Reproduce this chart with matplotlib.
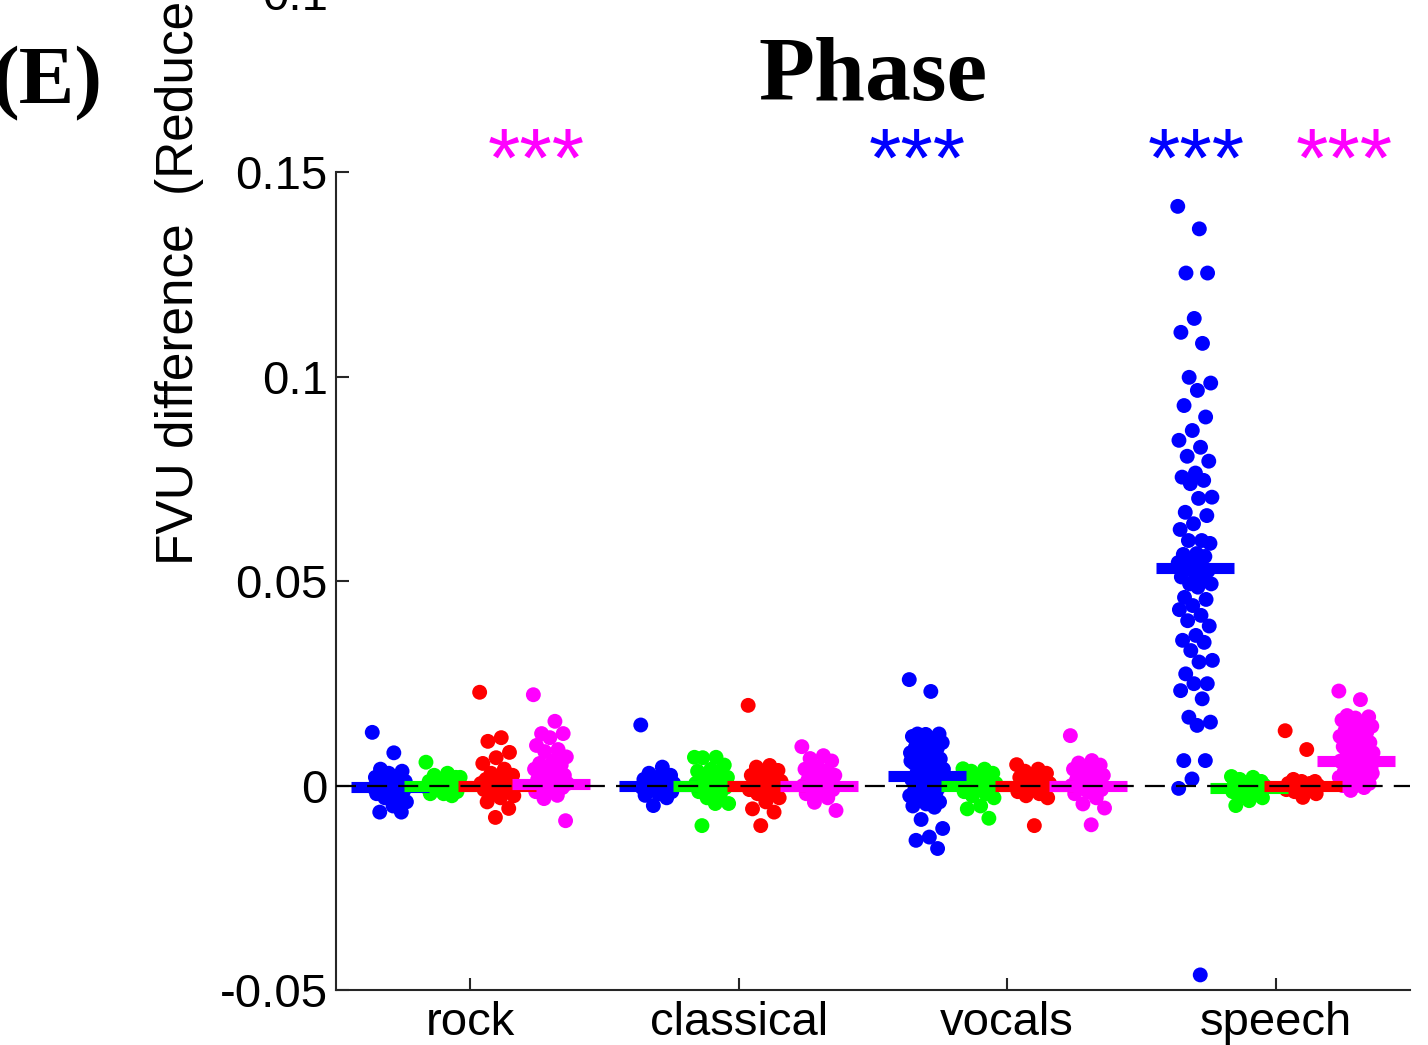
import numpy as np
import matplotlib
matplotlib.use('Agg')
import matplotlib.pyplot as plt

plt.rcParams['font.family'] = ['Liberation Sans', 'DejaVu Sans']

#   categories and colours of the four sub groups
categories = ['rock', 'classical', 'vocals', 'speech']
colors = ['#0000ff', '#00ff00', '#ff0000', '#ff00ff']

#   FVU differences (one list per category / colour)
rock_blue = [0.013, 0.008, 0.004, 0.0035, 0.003, 0.002, 0.002, 0.0015, 0.001, 0.001, 0.0005,
             0, 0, -0.0005, -0.001, -0.001, -0.0015, -0.002, -0.002, -0.003, -0.003, -0.004,
             -0.005, -0.0065, -0.0065, 0.0005, -0.0005, 0.001, -0.001, 0.0]
rock_green = [0.0057, 0.003, 0.0025, 0.002, 0.0015, 0.001, 0.001, 0.0005, 0.0005, 0, 0, 0,
              -0.0005, -0.0005, -0.001, -0.001, -0.0015, -0.002, -0.002, -0.0025, 0.0015,
              0.002, -0.0015, 0.0005, -0.0005]
rock_red = [0.0228, 0.0117, 0.0108, 0.0081, 0.0068, 0.0054, 0.004, 0.003, 0.0025, 0.002,
            0.0015, 0.001, 0.001, 0.0005, 0, 0, -0.0005, -0.001, -0.001, -0.0015, -0.002,
            -0.0025, -0.003, -0.004, -0.0056, -0.0078, 0.0005, -0.0005]
rock_magenta = [0.0222, 0.0157, 0.0127, 0.0127, 0.0117, 0.0098, 0.0088, 0.0083, 0.007, 0.006,
                0.0054, 0.005, 0.0045, 0.004, 0.0037, 0.003, 0.0025, 0.002, 0.0015, 0.001,
                0.001, 0.0005, 0, 0, -0.0005, -0.001, -0.0015, -0.0024, -0.0032, -0.0086,
                0.0005, 0.0, 0.001, -0.0005]

classical_blue = [0.0148, 0.0045, 0.003, 0.0025, 0.002, 0.0015, 0.001, 0.001, 0.0005, 0.0005,
                  0, 0, 0, -0.0005, -0.001, -0.001, -0.0015, -0.002, -0.0024, -0.003, -0.0049]
classical_green = [0.0069, 0.0069, 0.0068, 0.005, 0.004, 0.0035, 0.003, 0.0025, 0.002, 0.0015,
                   0.001, 0.001, 0.0005, 0.0005, 0, 0, -0.0005, -0.001, -0.0015, -0.002, -0.003,
                   -0.0044, -0.0044, -0.0098]
classical_red = [0.0196, 0.0049, 0.0045, 0.0037, 0.003, 0.0025, 0.002, 0.0015, 0.001, 0.0005,
                 0, 0, -0.0005, -0.001, -0.0015, -0.002, -0.003, -0.004, -0.0057, -0.0065,
                 -0.0098]
classical_magenta = [0.0095, 0.0073, 0.0066, 0.006, 0.0045, 0.004, 0.0035, 0.003, 0.0025, 0.002,
                     0.0015, 0.001, 0.0005, 0, 0, -0.0005, -0.001, -0.0015, -0.002, -0.003,
                     -0.0041, -0.0061]

vocals_blue = [0.0259, 0.023, 0.0126, 0.0126, 0.0125, 0.012, 0.0115, 0.011, 0.0105, 0.01,
               0.0095, 0.009, 0.0085, 0.008, 0.0075, 0.007, 0.0065, 0.006, 0.0055, 0.005,
               0.0045, 0.004, 0.0035, 0.003, 0.0025, 0.002, 0.0015, 0.001, 0.0005, 0, -0.0005,
               -0.001, -0.0015, -0.002, -0.0025, -0.003, -0.0035, -0.004, -0.0045, -0.005,
               -0.0053, -0.0083, -0.0105, -0.0126, -0.0134, -0.0154, 0.004, 0.006, 0.008, 0.01,
               0.002, 0.0, -0.002, -0.004]
vocals_green = [0.0041, 0.004, 0.0035, 0.003, 0.0025, 0.002, 0.0015, 0.001, 0.0005, 0, 0,
                -0.0005, -0.001, -0.0015, -0.002, -0.0025, -0.003, -0.005, -0.0057, -0.008]
vocals_red = [0.0051, 0.004, 0.0035, 0.003, 0.0025, 0.002, 0.0015, 0.001, 0.0005, 0, 0,
              -0.0005, -0.001, -0.0015, -0.002, -0.0025, -0.003, -0.0098]
vocals_magenta = [0.0122, 0.0061, 0.0055, 0.005, 0.0045, 0.004, 0.0035, 0.003, 0.0025, 0.002,
                  0.0015, 0.001, 0.0005, 0, 0, -0.0005, -0.001, -0.0015, -0.002, -0.003,
                  -0.0045, -0.0055, -0.0096]

speech_blue = [0.1416, 0.1361, 0.1253, 0.1253, 0.1142, 0.1108, 0.1081, 0.0998, 0.0984, 0.0966,
               0.0929, 0.0901, 0.0868, 0.0844, 0.0827, 0.0805, 0.0793, 0.0764, 0.0754, 0.0746,
               0.0738, 0.0705, 0.0702, 0.0668, 0.066, 0.064, 0.0626, 0.0599, 0.0599, 0.0592,
               0.0567, 0.0565, 0.056, 0.0552, 0.0545, 0.054, 0.0532, 0.0525, 0.052, 0.051,
               0.0502, 0.0493, 0.0493, 0.0485, 0.046, 0.0455, 0.044, 0.043, 0.0416, 0.0403,
               0.039, 0.0367, 0.0355, 0.035, 0.033, 0.0306, 0.0302, 0.0273, 0.0249, 0.0249,
               0.0232, 0.0212, 0.0167, 0.0155, 0.0147, 0.0061, 0.0061, 0.0016, -0.0007, -0.0463]
speech_green = [0.0022, 0.002, 0.0015, 0.001, 0.0005, 0.0005, 0, 0, 0, -0.0005, -0.0005, -0.001,
                -0.001, -0.0015, -0.002, -0.0025, -0.003, -0.0037, -0.0049, 0.001, -0.0005]
speech_red = [0.0134, 0.0088, 0.0015, 0.001, 0.001, 0.0005, 0.0005, 0, 0, 0, 0, -0.0005,
              -0.0005, -0.001, -0.001, -0.0015, -0.002, -0.0029]
speech_magenta = [0.0231, 0.021, 0.0171, 0.0168, 0.0165, 0.016, 0.0155, 0.015, 0.0145, 0.014,
                  0.0135, 0.013, 0.0125, 0.012, 0.0115, 0.011, 0.0105, 0.01, 0.0095, 0.009,
                  0.0085, 0.008, 0.0075, 0.007, 0.0065, 0.006, 0.0058, 0.0055, 0.005, 0.0045,
                  0.004, 0.0035, 0.003, 0.0025, 0.002, 0.0015, 0.001, 0.0005, 0.0, 0.0, -0.0005,
                  -0.0012, 0.003, 0.002, 0.001, 0.0005, 0.004, 0.006, 0.008, 0.012, 0.0025,
                  0.0015, 0.0, 0.0005]

#   median bars
rock_med = [-0.0003, 0.0, 0.0, 0.0004]
classical_med = [0.0, 0.0, 0.0, 0.0]
vocals_med = [0.0023, -0.0002, -0.0002, 0.0]
speech_med = [0.0533, -0.0005, 0.0, 0.0059]

#   significance stars: (category index, colour index)
stars = [(0, 3), (2, 0), (3, 0), (3, 3)]
star_dx = [0.245, -0.336, -0.297, 0.257]

groups = [[rock_blue, rock_green, rock_red, rock_magenta],
          [classical_blue, classical_green, classical_red, classical_magenta],
          [vocals_blue, vocals_green, vocals_red, vocals_magenta],
          [speech_blue, speech_green, speech_red, speech_magenta]]
medians = [rock_med, classical_med, vocals_med, speech_med]

offsets = [-0.3, -0.1, 0.1, 0.3]
half_w = 0.145

fig = plt.figure(figsize=(14.28, 10.45), dpi=100)
ax = fig.add_axes([0.2353, 0.0526, 0.7521, 0.7828])

for ci in range(len(categories)):
    for k in range(4):
        vals = np.array(groups[ci][k])
        n = len(vals)
        #   deterministic spread of the dots around the group centre
        jit = ((np.arange(n) * 0.618034) % 1 - 0.5) * 0.13
        xc = ci + 1 + offsets[k]
        ax.scatter(xc + jit, vals, s=115, color=colors[k], edgecolors='none', zorder=2)
        m = medians[ci][k]
        ax.plot([xc - half_w, xc + half_w], [m, m], color=colors[k], lw=8,
                solid_capstyle='butt', zorder=3)

ax.axhline(0, color='k', lw=1.6, ls=(0, (9, 5)), zorder=4)

for (ci, k), dx in zip(stars, star_dx):
    ax.text(ci + 1 + dx, 0.1465, '***', color=colors[k], fontsize=60,
            ha='center', va='baseline', clip_on=False)

ax.set_xlim(0.5, 4.5)
ax.set_ylim(-0.05, 0.15)
ax.set_xticks([1, 2, 3, 4])
ax.set_xticklabels(categories)
ax.set_yticks([-0.05, 0, 0.05, 0.1, 0.15])
ax.set_yticklabels(['-0.05', '0', '0.05', '0.1', '0.15'])
ax.tick_params(direction='in', length=9, width=1.5, colors='#262626', labelsize=34,
               labelcolor='k', pad=6)
ax.tick_params(axis='x', pad=8)
for s in ['top', 'right']:
    ax.spines[s].set_visible(False)
for s in ['left', 'bottom']:
    ax.spines[s].set_color('#262626')
    ax.spines[s].set_linewidth(1.5)

ax.set_title('Phase', fontsize=66, fontweight='bold', family='Liberation Serif', pad=52)

fig.text(-0.006, 1 - 103 / 1045, '(E)', fontsize=60, fontweight='bold',
         family='Liberation Serif', ha='left', va='baseline')
fig.text(180 / 1428, 1 - 565 / 1045, 'FVU difference  (Reduced - Full)', fontsize=37,
         rotation=90, ha='center', va='bottom')
fig.text(262 / 1428, 1 - 10 / 1045, '0.1', fontsize=34, ha='left', va='baseline')

fig.savefig('out.png', dpi=100)
